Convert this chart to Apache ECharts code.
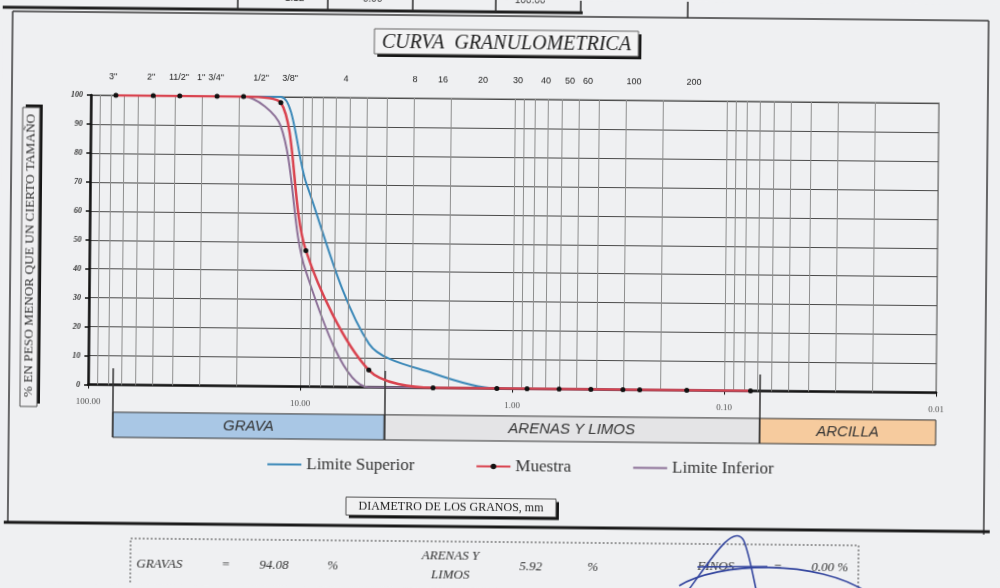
<!DOCTYPE html>
<html>
<head>
<meta charset="utf-8">
<script src="https://cdn.jsdelivr.net/npm/echarts@6/dist/echarts.min.js"></script>
<style>
  html, body { margin: 0; padding: 0; background: #eff0f2; overflow: hidden; }
  /* the scanned sheet sits slightly rotated on the page */
  #chart { width: 1000px; height: 588px; transform: rotate(0.55deg); transform-origin: 500px 294px; }
</style>
</head>
<body>
<div id="chart"></div>
<script>
// Sieve series: names, openings (mm) and cumulative % passing
const sieveNames = ['3"', '2"', '11/2"', '1"', '3/4"', '1/2"', '3/8"', '4', '8', '16', '20', '30', '40', '50', '60', '100', '200'];
const sieveSizes = [76.2, 50.8, 38.1, 25.4, 19.05, 12.7, 9.525, 4.75, 2.36, 1.18, 0.85, 0.6, 0.425, 0.3, 0.25, 0.15, 0.075];
const muestra        = [100, 100, 100, 100, 100, 98, 47, 5.92, 0, 0, 0, 0, 0, 0, 0, 0, 0];
const limiteSuperior = [100, 100, 100, 100, 100, 100, 70, 15, 5, 0, 0, 0, 0, 0, 0, 0, 0];
const limiteInferior = [100, 100, 100, 100, 100, 90, 40, 0, 0, 0, 0, 0, 0, 0, 0, 0, 0];

// Soil fractions along the diameter axis (box edges, mm)
const bandNames  = ['GRAVA', 'ARENAS Y LIMOS', 'ARCILLA'];
const bandLimits = [76.2, 4.0, 0.068, 0.01];

// Summary of fractions (%)
const summaryNames  = ['GRAVAS', 'ARENAS Y\nLIMOS', 'FINOS'];
const summaryValues = [94.08, 5.92, 0.00];

// Layout of the sieve-name row written above the plot (px)
const sieveLabelX = [111, 149, 177, 199, 214, 259, 288, 344, 413, 441, 481, 516, 544, 568, 586, 632, 692];

const serif = '"Liberation Serif", "Times New Roman", serif';
const sans = '"Liberation Sans", Arial, sans-serif';
const bandColors = ['#a9c7e5', '#e4e4e6', '#f6cb9e'];

const pairs = arr => sieveSizes.map((d, i) => [d, arr[i]]);

// minor log gridlines 2..9 x 10^n
const minorGrid = [];
[-2, -1, 0, 1].forEach(e => {
  for (let m = 2; m <= 9; m++) minorGrid.push(+(m * Math.pow(10, e)).toPrecision(3));
});

const chart = echarts.init(document.getElementById('chart'), null, { renderer: 'canvas' });

const graphics = [];
// page frame and the table edge above
graphics.push(
  { type: 'line', shape: { x1: 10, y1: 16, x2: 986, y2: 16 }, style: { stroke: '#3a3a3a', lineWidth: 1.5 } },
  { type: 'line', shape: { x1: 0, y1: 12, x2: 580, y2: 12 }, style: { stroke: '#1e1e1e', lineWidth: 3 } },
  { type: 'line', shape: { x1: 10, y1: 16, x2: 10, y2: 527 }, style: { stroke: '#3a3a3a', lineWidth: 1.5 } },
  { type: 'line', shape: { x1: 986, y1: 16, x2: 986, y2: 530 }, style: { stroke: '#3a3a3a', lineWidth: 1.5 } },
  { type: 'line', shape: { x1: 6, y1: 527, x2: 992, y2: 527 }, style: { stroke: '#1a1a1a', lineWidth: 3 } }
);
[235, 325, 410, 493, 578].forEach(x => graphics.push(
  { type: 'line', shape: { x1: x, y1: 0, x2: x, y2: 12 }, style: { stroke: '#2a2a2a', lineWidth: 1.5 } }));
graphics.push({ type: 'line', shape: { x1: 685, y1: 0, x2: 685, y2: 16 }, style: { stroke: '#2a2a2a', lineWidth: 1.5 } });
[['1.12', 282], ['0.00', 360], ['100.00', 512]].forEach(([t, x]) => graphics.push(
  { type: 'text', x: x, y: -5, style: { text: t, font: '10px ' + sans, fill: '#333' } }));

// title box with drop shadow
graphics.push(
  { type: 'rect', shape: { x: 375, y: 33, width: 264, height: 25 }, style: { fill: '#161616' } },
  { type: 'rect', shape: { x: 372, y: 30, width: 264, height: 25 }, style: { fill: '#f3f3f4', stroke: '#666', lineWidth: 1 } },
  { type: 'text', x: 504, y: 43.5, style: { text: 'CURVA  GRANULOMETRICA', font: 'italic 20px ' + serif, fill: '#1e1e1e', align: 'center', verticalAlign: 'middle' } }
);

// sieve names above the plot
sieveNames.forEach((t, i) => graphics.push(
  { type: 'text', x: sieveLabelX[i], y: 81, style: { text: t, font: '9px ' + sans, fill: '#222', align: 'center', verticalAlign: 'middle' } }));

// y-axis title box
graphics.push(
  { type: 'rect', shape: { x: 24, y: 109, width: 17, height: 299 }, style: { fill: '#161616' } },
  { type: 'rect', shape: { x: 21, y: 112, width: 17, height: 299 }, style: { fill: '#efeff1', stroke: '#555', lineWidth: 1 } },
  { type: 'text', x: 30, y: 260, rotation: Math.PI / 2, style: { text: '% EN PESO MENOR QUE UN CIERTO TAMAÑO', font: '13.3px ' + serif, fill: '#333', align: 'center', verticalAlign: 'middle' } }
);

// x-axis title box
graphics.push(
  { type: 'rect', shape: { x: 351, y: 501.5, width: 210, height: 18 }, style: { fill: '#161616' } },
  { type: 'rect', shape: { x: 348, y: 498.5, width: 210, height: 18 }, style: { fill: '#f1f1f2', stroke: '#555', lineWidth: 1 } },
  { type: 'text', x: 453, y: 508, style: { text: 'DIAMETRO DE LOS GRANOS, mm', font: '12px ' + serif, fill: '#222', align: 'center', verticalAlign: 'middle' } }
);

// summary table
graphics.push(
  { type: 'rect', shape: { x: 133, y: 542, width: 728, height: 70 }, style: { fill: 'none', stroke: '#444', lineWidth: 1, lineDash: [2, 2] } }
);
const sumFont = 'italic 13px ' + serif;
const fmt = v => v.toFixed(2);
graphics.push(
  { type: 'text', x: 139, y: 568, style: { text: summaryNames[0], font: sumFont, fill: '#333', verticalAlign: 'middle' } },
  { type: 'text', x: 224, y: 568, style: { text: '=', font: sumFont, fill: '#333', verticalAlign: 'middle' } },
  { type: 'text', x: 262, y: 568, style: { text: fmt(summaryValues[0]), font: sumFont, fill: '#333', verticalAlign: 'middle' } },
  { type: 'text', x: 330, y: 568, style: { text: '%', font: sumFont, fill: '#333', verticalAlign: 'middle' } },
  { type: 'text', x: 453, y: 566, style: { text: summaryNames[1], font: sumFont, fill: '#333', align: 'center', verticalAlign: 'middle', lineHeight: 19 } },
  { type: 'text', x: 522, y: 567, style: { text: fmt(summaryValues[1]), font: sumFont, fill: '#333', verticalAlign: 'middle' } },
  { type: 'text', x: 590, y: 567, style: { text: '%', font: sumFont, fill: '#333', verticalAlign: 'middle' } },
  { type: 'text', x: 700, y: 565, style: { text: summaryNames[2], font: sumFont, fill: '#333', verticalAlign: 'middle' } },
  { type: 'text', x: 776, y: 565, style: { text: '=', font: sumFont, fill: '#333', verticalAlign: 'middle' } },
  { type: 'text', x: 814, y: 565, style: { text: fmt(summaryValues[2]) + ' %', font: sumFont, fill: '#333', verticalAlign: 'middle' } }
);
// ink signature over the table
const ink = { stroke: '#33459e', lineWidth: 1.6, fill: 'none' };
graphics.push(
  { type: 'bezierCurve', shape: { x1: 690, y1: 590, cpx1: 712, cpy1: 560, cpx2: 735, cpy2: 520, x2: 746, y2: 538 }, style: ink },
  { type: 'bezierCurve', shape: { x1: 746, y1: 538, cpx1: 752, cpy1: 552, cpx2: 756, cpy2: 575, x2: 760, y2: 592 }, style: ink },
  { type: 'bezierCurve', shape: { x1: 682, y1: 584, cpx1: 720, cpy1: 560, cpx2: 820, cpy2: 555, x2: 872, y2: 590 }, style: ink },
  { type: 'line', shape: { x1: 700, y1: 565, x2: 770, y2: 564 }, style: ink }
);

const hiddenDot = { opacity: 0 };

const option = {
  animation: false,
  backgroundColor: '#eff0f2',
  grid: [
    { left: 89, right: 63, top: 99, height: 289.5, show: true, borderColor: '#8a8a8a', borderWidth: 1.5, backgroundColor: 'transparent' },
    { left: 89, right: 63, top: 372, height: 69 }
  ],
  legend: {
    data: [
      { name: 'Limite Superior', itemStyle: hiddenDot },
      { name: 'Muestra' },
      { name: 'Limite Inferior', itemStyle: hiddenDot }
    ],
    left: 268, top: 458, padding: 0,
    itemWidth: 34, itemHeight: 7, itemGap: 61, itemTextGap: 1,
    textStyle: { fontFamily: serif, fontSize: 17, color: '#333' }
  },
  xAxis: [
    {
      type: 'log', logBase: 10, min: 0.01, max: 100, inverse: true, gridIndex: 0,
      axisLine: { show: true, onZero: false, lineStyle: { color: '#111', width: 2.5 } },
      axisTick: { show: true, length: 4, lineStyle: { color: '#111', width: 1 } },
      axisLabel: { formatter: v => Number(v).toFixed(2), fontFamily: serif, fontSize: 9, color: '#555', margin: 13 },
      splitLine: { show: true, lineStyle: { color: '#8e8e8e', width: 1 } }
    },
    { type: 'log', logBase: 10, min: 0.01, max: 100, inverse: true, gridIndex: 1, show: false }
  ],
  yAxis: [
    {
      type: 'value', min: 0, max: 100, interval: 10, gridIndex: 0,
      axisLine: { show: true, onZero: false, lineStyle: { color: '#111', width: 2.5 } },
      axisTick: { show: true, length: 4, lineStyle: { color: '#111', width: 1.5 } },
      axisLabel: { fontFamily: serif, fontStyle: 'italic', fontWeight: 'bold', fontSize: 8, color: '#333', margin: 8 },
      splitLine: { show: true, lineStyle: { color: '#4a4a4a', width: 1 } }
    },
    { type: 'value', min: 0, max: 2.75, gridIndex: 1, show: false }
  ],
  series: [
    {
      type: 'line', data: [], silent: true, z: 1,
      markLine: {
        silent: true, symbol: ['none', 'none'], label: { show: false },
        lineStyle: { color: '#8e8e8e', width: 1, type: 'solid' },
        emphasis: { disabled: true },
        data: minorGrid.map(v => ({ xAxis: v }))
      }
    },
    {
      name: 'Limite Superior', type: 'line', data: pairs(limiteSuperior), smooth: 0.3,
      symbol: 'none', showSymbol: false, z: 3,
      lineStyle: { color: '#3b88b8', width: 2 }, itemStyle: { color: '#3b88b8' }
    },
    {
      name: 'Muestra', type: 'line', data: pairs(muestra), smooth: 0.3,
      symbol: 'circle', symbolSize: 5, z: 5,
      lineStyle: { color: '#d9434f', width: 2.5 }, itemStyle: { color: '#111' }
    },
    {
      name: 'Limite Inferior', type: 'line', data: pairs(limiteInferior), smooth: 0.3,
      symbol: 'none', showSymbol: false, z: 4,
      lineStyle: { color: '#8c7097', width: 2 }, itemStyle: { color: '#8c7097' }
    },
    {
      type: 'line', xAxisIndex: 1, yAxisIndex: 1, data: [], silent: true, z: 2,
      markArea: {
        silent: true,
        data: bandNames.map((name, i) => [
          {
            name: name, xAxis: bandLimits[i], yAxis: 0,
            itemStyle: { color: bandColors[i], borderColor: '#333', borderWidth: 1 },
            label: { show: true, position: 'inside', formatter: name, fontFamily: sans, fontStyle: 'italic', fontSize: 15, color: '#333' }
          },
          { xAxis: bandLimits[i + 1], yAxis: 1 }
        ])
      },
      markLine: {
        silent: true, symbol: ['none', 'none'], label: { show: false },
        lineStyle: { color: '#333', width: 1.5, type: 'solid' },
        data: bandLimits.slice(0, 3).map(v => [{ coord: [v, 0] }, { coord: [v, 2.75] }])
      }
    }
  ],
  graphic: graphics
};

chart.setOption(option);
</script>
</body>
</html>
